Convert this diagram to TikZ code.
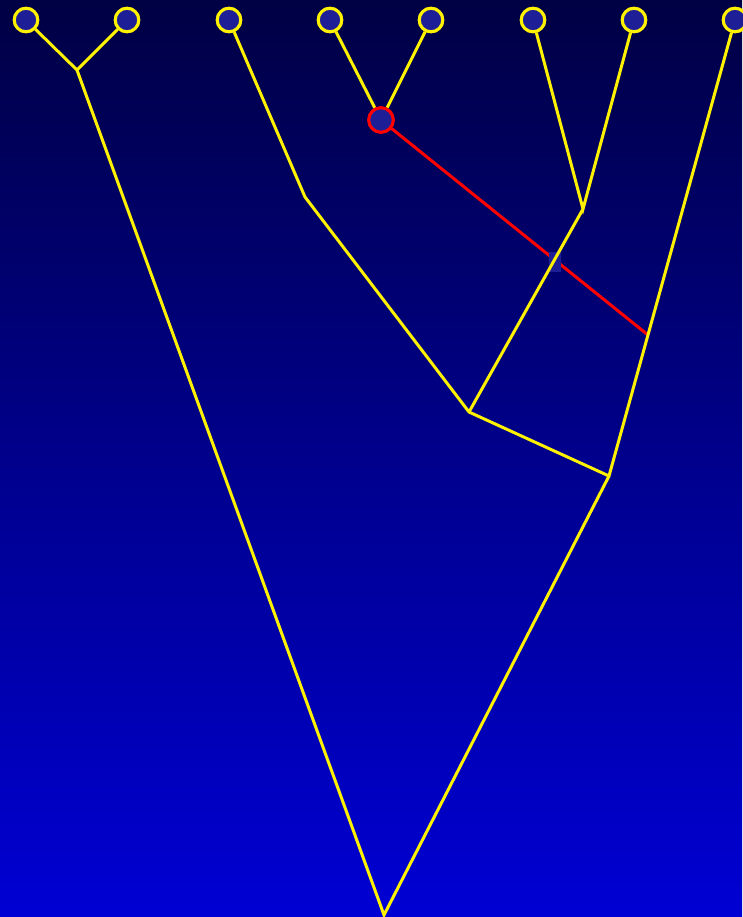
\documentclass[tikz,border=0pt]{standalone}
\begin{document}
\begin{tikzpicture}[x=1pt,y=-1pt,
  leaf/.style={circle,draw=yellow,fill=nodefill,line width=3pt,minimum size=23.5pt,inner sep=0pt},
  redleaf/.style={circle,draw=red,fill=nodefill,line width=3pt,minimum size=24.5pt,inner sep=0pt},
  branch/.style={draw=yellow,line width=3pt,line join=miter},
  redbranch/.style={draw=red,line width=3pt}]
\definecolor{nodefill}{RGB}{30,30,150}
\definecolor{bgtop}{RGB}{0,0,68}
\definecolor{bgbot}{RGB}{0,0,212}
\fill[top color=bgtop,bottom color=bgbot] (0,0) rectangle (742,917);
\useasboundingbox (0,0) rectangle (742,917);
% internal points
\coordinate (a) at (77,70);
\coordinate (b) at (305,197);
\coordinate (d) at (583,209);
\coordinate (c) at (469,412);
\coordinate (e) at (609,476);
\coordinate (f) at (648,335);
\coordinate (root) at (384,915);
% leaves
\node[leaf] (l1) at (26,20) {};
\node[leaf] (l2) at (127,20) {};
\node[leaf] (l3) at (229,20) {};
\node[leaf] (l4) at (330,20) {};
\node[leaf] (l5) at (431,20) {};
\node[leaf] (l6) at (533,20) {};
\node[leaf] (l7) at (634,20) {};
\node[leaf] (l8) at (735,20) {};
\node[redleaf] (r) at (381,120) {};
% red branch
\draw[redbranch] (r) -- (f);
\fill[nodefill] (549,252) rectangle (561,272);
% yellow branches
\draw[branch] (l1) -- (a) -- (l2);
\draw[branch] (a) -- (root) -- (e);
\draw[branch] (l3) -- (b) -- (c) -- (e) -- (l8);
\draw[branch] (l6) -- (d) -- (l7);
\draw[branch] (d) -- (c);
\draw[branch] (l4) -- (r) -- (l5);
% redraw nodes on top
\node[leaf] at (l1) {};
\node[leaf] at (l2) {};
\node[leaf] at (l3) {};
\node[leaf] at (l4) {};
\node[leaf] at (l5) {};
\node[leaf] at (l6) {};
\node[leaf] at (l7) {};
\node[leaf] at (l8) {};
\node[redleaf] at (r) {};
\end{tikzpicture}
\end{document}
